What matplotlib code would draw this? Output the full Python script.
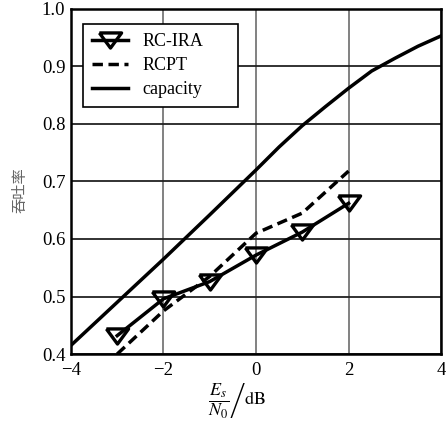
import numpy as np
import matplotlib
matplotlib.use("Agg")
import matplotlib.pyplot as plt

plt.rcParams['font.family'] = ['Liberation Serif', 'DejaVu Serif']
plt.rcParams['mathtext.fontset'] = 'stix'

# data
snr = [-3, -2, -1, 0, 1, 2]
rc_ira = [0.432, 0.496, 0.526, 0.572, 0.612, 0.662]
rcpt = [0.400, 0.475, 0.535, 0.610, 0.645, 0.718]
cap_snr = [-4, -3, -2, -1, 0, 0.5, 1, 1.5, 2, 2.5, 3, 3.5, 4]
capacity = [0.415, 0.490, 0.565, 0.642, 0.720, 0.760, 0.797, 0.830, 0.862, 0.892, 0.914, 0.935, 0.953]
xticks = [-4, -2, 0, 2, 4]
yticks = [0.4, 0.5, 0.6, 0.7, 0.8, 0.9, 1.0]

# wide open down-triangle marker
tri = [(-1, 0.68), (1, 0.68), (0, -0.68), (-1, 0.68)]

fig = plt.figure(figsize=(4.46, 4.22), dpi=100)
ax = fig.add_axes([0.159, 0.161, 0.83, 0.818])

ax.plot(snr, rc_ira, color='black', lw=2.5, marker=tri, ms=16,
        mfc='none', mec='black', mew=2.4, label='RC-IRA', clip_on=False)
ax.plot(snr, rcpt, color='black', lw=2.5, ls=(0, (3, 1.6)), label='RCPT')
ax.plot(cap_snr, capacity, color='black', lw=2.5, label='capacity')

ax.set_xlim(-4, 4)
ax.set_ylim(0.4, 1.0)
ax.set_xticks(xticks)
ax.set_xticklabels(['\u2212%d' % -t if t < 0 else '%d' % t for t in xticks])
ax.set_yticks(yticks)
ax.set_yticklabels(['%.1f' % t for t in yticks])
ax.tick_params(length=0, labelsize=13.5)
ax.tick_params(axis='x', pad=6)
ax.tick_params(axis='y', pad=4)

ax.grid(True, axis='x', color='#777777', lw=1.3)
ax.grid(True, axis='y', color='#222222', lw=1.3)
for s in ax.spines.values():
    s.set_linewidth(1.8)

ax.set_xlabel(r'$\left.\dfrac{E_s}{N_0}\right/\mathrm{dB}$', fontsize=13)
ax.xaxis.set_label_coords(0.45, -0.077)
ax.set_ylabel('吞吐率', family=['Noto Sans CJK SC', 'DejaVu Sans'],
              fontsize=11, color='#666666')
ax.yaxis.set_label_coords(-0.115, 0.475)

leg = ax.legend(loc='upper left', bbox_to_anchor=(0.0324, 0.707, 0.419, 0.2495),
                mode='expand', fontsize=13,
                frameon=True, fancybox=False, edgecolor='black',
                handlelength=2.0, borderpad=0.5, labelspacing=0.4,
                handletextpad=0.8, borderaxespad=0)
leg.get_frame().set_linewidth(1.2)
leg.get_frame().set_alpha(1)

fig.savefig('out.png', dpi=100)
